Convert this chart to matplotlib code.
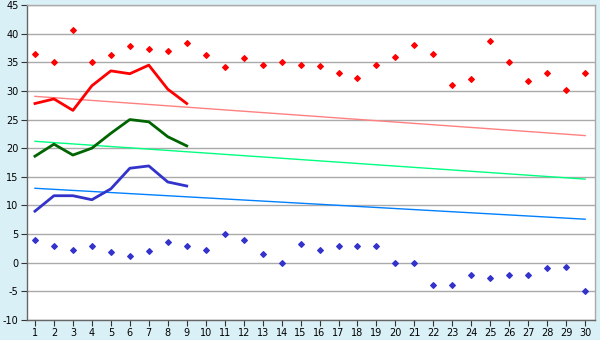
import numpy as np
import matplotlib
matplotlib.use("Agg")
import matplotlib.pyplot as plt

plt.rcParams["axes.unicode_minus"] = False

# Data
days = np.arange(1, 31)
max_temps = [36.4, 35.0, 40.6, 35.1, 36.2, 37.8, 37.3, 36.9, 38.3, 36.2,
             34.1, 35.7, 34.6, 35.0, 34.5, 34.3, 33.1, 32.2, 34.5, 36.0,
             38.1, 36.4, 31.0, 32.0, 38.7, 35.0, 31.8, 33.1, 30.1, 33.2]
min_temps = [3.9, 2.9, 2.3, 2.9, 1.8, 1.1, 2.0, 3.6, 2.9, 2.2,
             5.0, 3.9, 1.6, 0.0, 3.2, 2.2, 2.9, 2.9, 2.9, 0.0,
             0.0, -3.9, -3.9, -2.2, -2.7, -2.2, -2.2, -1.0, -0.8, -5.0]

line_days = np.arange(1, 10)
hi_line = [27.8, 28.6, 26.6, 30.9, 33.5, 33.0, 34.5, 30.3, 27.8]
mean_line = [18.6, 20.7, 18.8, 20.0, 22.6, 25.0, 24.6, 22.0, 20.4]
lo_line = [9.0, 11.7, 11.7, 11.0, 12.9, 16.5, 16.9, 14.1, 13.4]

# normal lines: values at day 1 and day 30
trend_days = [1, 30]
normal_hi = [29.05, 22.2]
normal_mean = [21.2, 14.6]
normal_lo = [13.0, 7.6]

fig = plt.figure(figsize=(6, 3.4), dpi=100)
fig.patch.set_facecolor("#daf0f7")
ax = fig.add_axes([0.045, 0.0588, 0.947, 0.9265])
ax.set_facecolor("white")

ax.plot(trend_days, normal_hi, color="#ff8080", lw=1)
ax.plot(trend_days, normal_mean, color="#00ff80", lw=1)
ax.plot(trend_days, normal_lo, color="#0080ff", lw=1)

ax.plot(line_days, hi_line, color="#ff0000", lw=2)
ax.plot(line_days, mean_line, color="#006400", lw=2)
ax.plot(line_days, lo_line, color="#3333cc", lw=2)

ax.scatter(days, max_temps, marker="D", s=8, color="#ff0000", zorder=3)
ax.scatter(days, min_temps, marker="D", s=8, color="#3333cc", zorder=3)

ax.set_xlim(0.58, 30.53)
ax.set_ylim(-10, 45)
ax.set_xticks(days)
ax.set_yticks(np.arange(-10, 46, 5))
ax.yaxis.grid(True, color="#aaaaaa", lw=1)
ax.set_axisbelow(True)
ax.tick_params(labelsize=7, length=4, color="#333333", pad=2)

for side in ["top", "right"]:
    ax.spines[side].set_color("#aaaaaa")
for side in ["left", "bottom"]:
    ax.spines[side].set_color("#666666")
for s in ax.spines.values():
    s.set_linewidth(1)

fig.savefig("out.png", dpi=100, facecolor=fig.get_facecolor())
